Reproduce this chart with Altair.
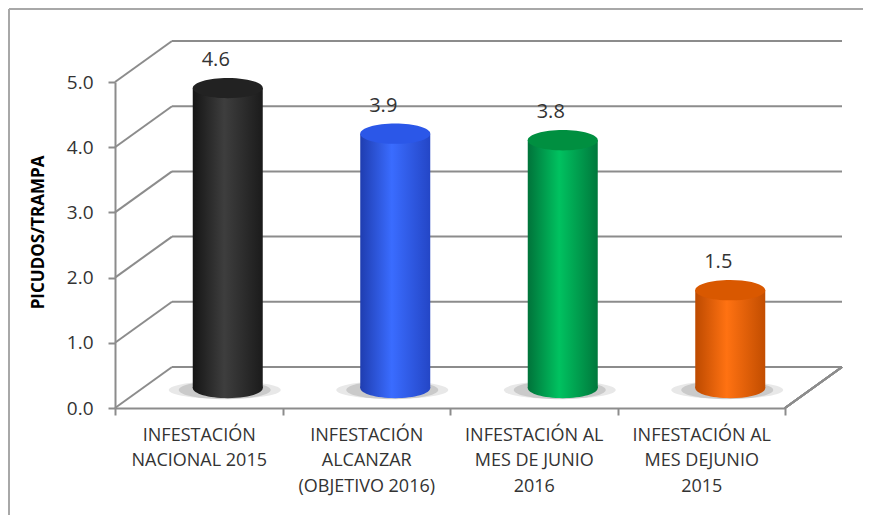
import altair as alt
import pandas as pd

# ---- data ----
label_lines = [
    ["INFESTACIÓN", "NACIONAL 2015"],
    ["INFESTACIÓN", "ALCANZAR", "(OBJETIVO 2016)"],
    ["INFESTACIÓN AL", "MES DE JUNIO", "2016"],
    ["INFESTACIÓN AL", "MES DEJUNIO", "2015"],
]
categories = ["|".join(l) for l in label_lines]
values = [4.6, 3.9, 3.8, 1.5]
y_ticks = [0, 1, 2, 3, 4, 5]
y_title = "PICUDOS/TRAMPA"

# colours: (edge, highlight, other edge, top)
palette = [
    ("#151515", "#3e3e3e", "#1b1b1b", "#222222"),
    ("#1f3db0", "#3a6cff", "#2446c6", "#2b57e8"),
    ("#00733a", "#00c260", "#00783c", "#008f40"),
    ("#bd4a00", "#ff7212", "#c24d00", "#d95800"),
]

# ---- layout / style ----
W, H = 670, 326
DX, DY = 57, -41          # depth offset of back wall
BX, BY = 29, -20          # cylinders sit at mid depth
CYL_W = 70
GRAY = "#8c8c8c"
TXT = "#333333"
FONT = "Open Sans"

df = pd.DataFrame({"cat": categories, "val": values})
grid_df = pd.DataFrame({"v": y_ticks})

x_axis = alt.Axis(
    title=None, labelExpr="split(datum.label, '|')", tickBand="extent",
    tickSize=7, tickWidth=2, tickColor=GRAY, domainColor=GRAY, domainWidth=2,
    labelFont=FONT, labelFontSize=18, labelColor=TXT, labelLineHeight=25.5,
    labelPadding=11, labelAngle=0, labelBaseline="top",
)
y_axis = alt.Axis(
    values=y_ticks, format=".1f", grid=False, tickSize=7, tickWidth=2,
    tickColor=GRAY, domainColor=GRAY, domainWidth=2,
    labelFont=FONT, labelFontSize=19, labelColor=TXT, labelPadding=15,
    title=y_title, titleFont=FONT, titleFontSize=17, titleFontWeight="bold",
    titleColor="black", titleX=-77, titleY=150, titleAngle=270,
    titleAlign="center", titleBaseline="middle",
)
X = alt.X("cat:N", sort=categories, axis=x_axis,
          scale=alt.Scale(paddingInner=0, paddingOuter=0))
Ysc = alt.Scale(domain=[0, 5], nice=False)

# back wall gridlines
back = alt.Chart(grid_df).mark_rule(color=GRAY, strokeWidth=2, xOffset=DX, x2Offset=DX,
                                    yOffset=DY).encode(
    x=alt.value(0), x2=alt.value(W),
    y=alt.Y("v:Q", scale=Ysc, axis=y_axis),
)
# side wall diagonals
diag = alt.Chart(grid_df).mark_rule(color=GRAY, strokeWidth=2, x2Offset=DX,
                                    y2Offset=DY).encode(
    x=alt.value(0), x2=alt.value(0),
    y=alt.Y("v:Q", scale=Ysc), y2="v:Q",
)
# floor right edge
floor_r = alt.Chart(grid_df).mark_rule(color=GRAY, strokeWidth=2, x2Offset=DX,
                                       y2Offset=DY).encode(
    x=alt.value(W), x2=alt.value(W),
    y=alt.datum(0, scale=Ysc), y2=alt.datum(0),
)
# outer chart frame (left and top edges)
frame = alt.Chart(grid_df).mark_rule(color="#a8a8a8", strokeWidth=1.5).encode(
    x=alt.value(-106), x2=alt.value(W + 200), y=alt.value(-73), y2=alt.value(-73))
frame2 = alt.Chart(grid_df).mark_rule(color="#a8a8a8", strokeWidth=1.5).encode(
    x=alt.value(-106), y=alt.value(-73), y2=alt.value(H + 200))

def ellipse(ry):
    return f"M -1 0 A 1 {ry} 0 1 1 1 0 A 1 {ry} 0 1 1 -1 0 Z"

layers = [back, diag, floor_r, frame, frame2]
for c, (e1, hi, e2, top) in zip(categories, palette):
    d = df[df["cat"] == c]
    grad = alt.LinearGradient(
        gradient="linear", x1=0, x2=1, y1=0, y2=0,
        stops=[alt.GradientStop(color=e1, offset=0),
               alt.GradientStop(color=hi, offset=0.45),
               alt.GradientStop(color=e2, offset=1)])
    base = alt.Chart(d)
    shadow1 = base.mark_point(shape=ellipse(0.16), size=112 ** 2, filled=True, color="#000000",
                              opacity=0.09, strokeWidth=0, xOffset=BX - 3, yOffset=BY + 2).encode(
        x=X, y=alt.datum(0, scale=Ysc))
    shadow2 = base.mark_point(shape=ellipse(0.2), size=92 ** 2, filled=True, color="#000000",
                              opacity=0.13, strokeWidth=0, xOffset=BX - 3, yOffset=BY + 2).encode(
        x=X, y=alt.datum(0, scale=Ysc))
    bottom = base.mark_point(shape=ellipse(0.29), size=CYL_W ** 2, filled=True, color=grad,
                             opacity=1, strokeWidth=0, xOffset=BX, yOffset=BY).encode(
        x=X, y=alt.datum(0, scale=Ysc))
    body = base.mark_bar(width=CYL_W, color=grad, xOffset=BX, yOffset=BY, y2Offset=BY).encode(
        x=X, y=alt.Y("val:Q", scale=Ysc), y2=alt.datum(0))
    cap = base.mark_point(shape=ellipse(0.29), size=CYL_W ** 2, filled=True, color=top,
                          opacity=1, strokeWidth=0, xOffset=BX, yOffset=BY).encode(
        x=X, y=alt.Y("val:Q", scale=Ysc))
    layers += [shadow1, shadow2, bottom, body, cap]

labels = alt.Chart(df).mark_text(font=FONT, fontSize=20, color=TXT, baseline="middle",
                                 xOffset=BX - 12, yOffset=BY - 28).encode(
    x=X, y=alt.Y("val:Q", scale=Ysc), text=alt.Text("val:Q", format=".1f"))
layers.append(labels)

chart = alt.layer(*layers).properties(
    width=W, height=H,
    padding={"left": 107, "top": 74, "right": 855 - 107 - W, "bottom": 507 - 74 - H},
    autosize=alt.AutoSizeParams(type="none"),
    background="white",
).configure_view(stroke=None)

chart.save("out.html", embed_options={"renderer": "svg", "actions": False})
